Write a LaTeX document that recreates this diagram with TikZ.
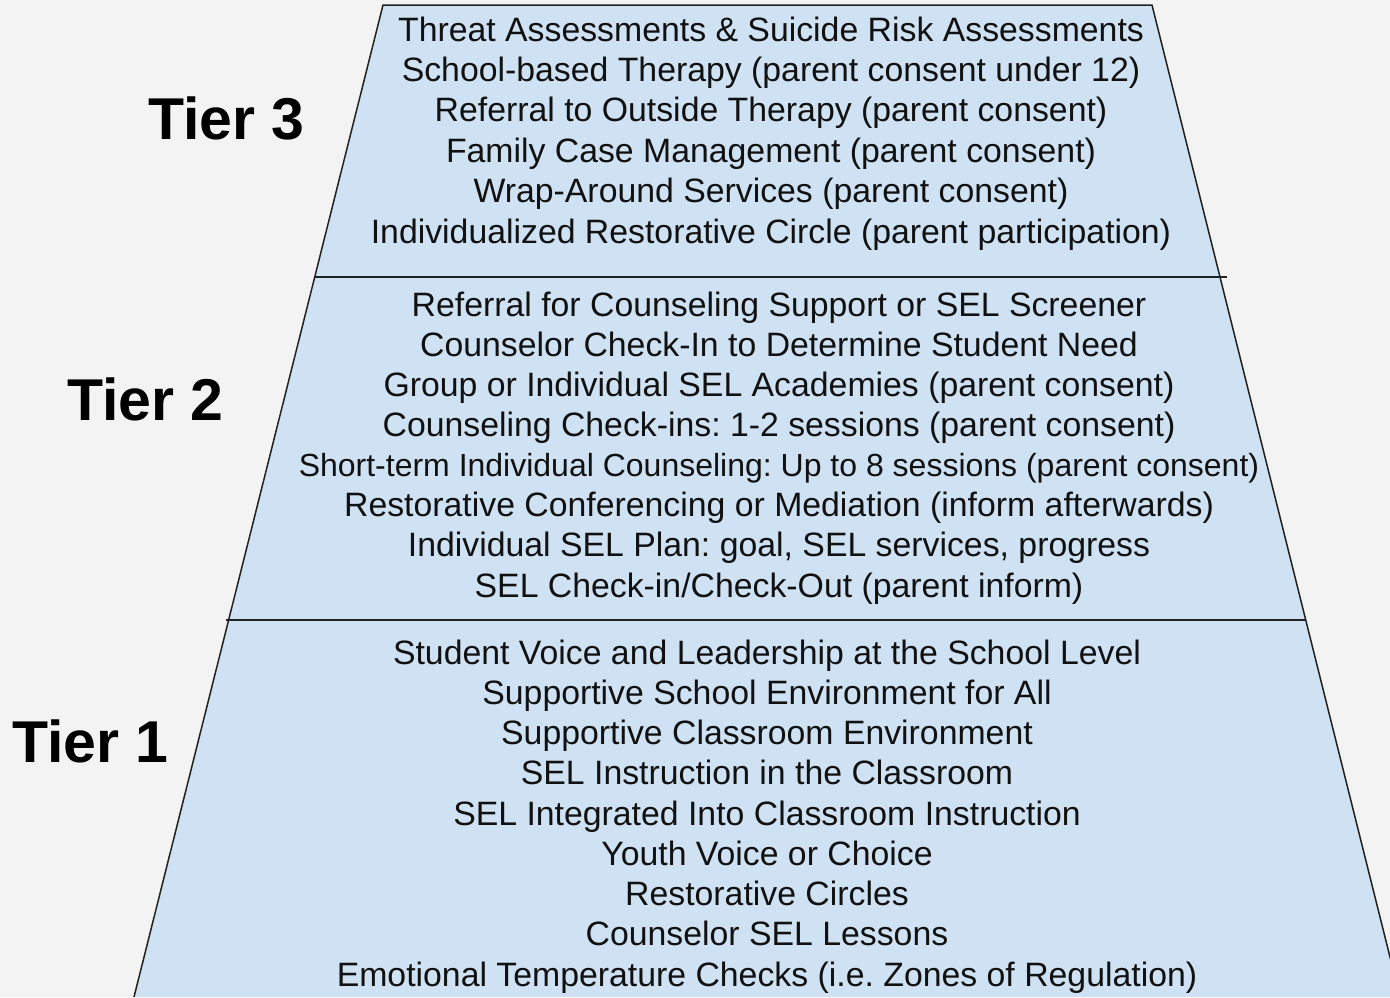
\documentclass[tikz,border=0pt]{standalone}
\usepackage{fontspec}
\setmainfont{Liberation Sans}
\frenchspacing
\definecolor{bgray}{HTML}{F3F3F3}
\definecolor{tierfill}{HTML}{CFE2F3}
\definecolor{edge}{HTML}{222222}
\definecolor{ink}{HTML}{111111}
\begin{document}
\begin{tikzpicture}[x=1pt,y=-1pt,
  item/.style={anchor=base,inner sep=0pt,text=ink,font=\fontsize{33.8}{40}\selectfont},
  tierlabel/.style={anchor=base west,inner sep=0pt,text=black,font=\fontsize{59}{66}\bfseries},
  rim/.style={draw=edge,line width=1.5pt}]
\useasboundingbox (0,0) rectangle (1390,997);
\fill[bgray] (0,0) rectangle (1390,997);
\clip (0,0) rectangle (1390,997);

% trapezoid body
\coordinate (tl) at (383,5);
\coordinate (tr) at (1152,5);
\coordinate (bl) at (134,997);
\coordinate (br) at (1400,997);
\fill[tierfill] (tl) -- (tr) -- (br) -- (bl) -- cycle;
\draw[rim] (bl) -- (tl) -- (tr) -- (br);

% tier separators
\coordinate (s3l) at (314,277);
\coordinate (s3r) at (1227,277);
\coordinate (s2l) at (226,620);
\coordinate (s2r) at (1305,620);
\draw[rim] (s3l) -- (s3r);
\draw[rim] (s2l) -- (s2r);

% tier labels
\node[tierlabel] (L3) at (148,139) {Tier 3};
\node[tierlabel] (L2) at (67,420) {Tier 2};
\node[tierlabel] (L1) at (12,762) {Tier 1};

% tier 3 items
\foreach \txt [count=\i from 0] in {
  Threat Assessments \& Suicide Risk Assessments,
  School-based Therapy (parent consent under 12),
  Referral to Outside Therapy (parent consent),
  Family Case Management (parent consent),
  Wrap-Around Services (parent consent),
  Individualized Restorative Circle (parent participation)}
  \node[item] (t3-\i) at (771,41+40.4*\i) {\txt};

% tier 2 items
\foreach \txt [count=\i from 0] in {
  Referral for Counseling Support or SEL Screener,
  Counselor Check-In to Determine Student Need,
  Group or Individual SEL Academies (parent consent),
  {Counseling Check-ins: 1-2 sessions (parent consent)},
  {\fontsize{32}{40}\selectfont Short-term Individual Counseling: Up to 8 sessions (parent consent)},
  Restorative Conferencing or Mediation (inform afterwards),
  {Individual SEL Plan: goal, SEL services, progress},
  SEL Check-in/Check-Out (parent inform)}
  \node[item] (t2-\i) at (779,316+40.15*\i) {\txt};

% tier 1 items
\foreach \txt [count=\i from 0] in {
  Student Voice and Leadership at the School Level,
  Supportive School Environment for All,
  Supportive Classroom Environment,
  SEL Instruction in the Classroom,
  SEL Integrated Into Classroom Instruction,
  Youth Voice or Choice,
  Restorative Circles,
  Counselor SEL Lessons,
  Emotional Temperature Checks (i.e. Zones of Regulation)}
  \node[item] (t1-\i) at (767,664+40.25*\i) {\txt};
\end{tikzpicture}
\end{document}
